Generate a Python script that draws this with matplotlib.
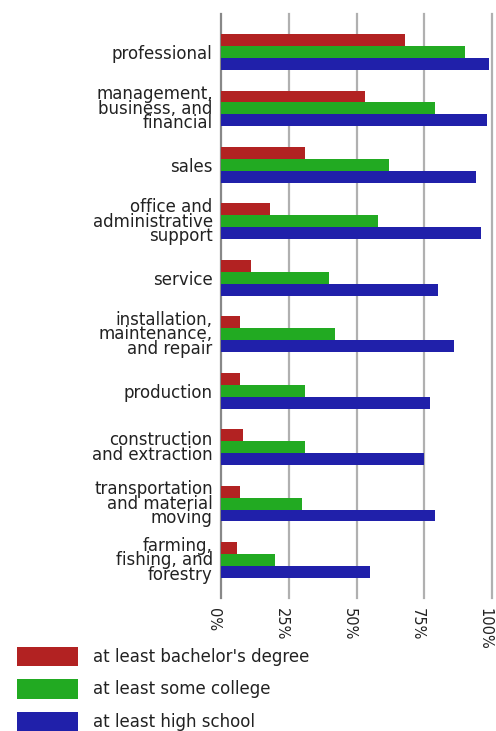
import matplotlib
matplotlib.use("Agg")
import matplotlib.pyplot as plt
import numpy as np

categories = [
    "professional",
    "management,\nbusiness, and\nfinancial",
    "sales",
    "office and\nadministrative\nsupport",
    "service",
    "installation,\nmaintenance,\nand repair",
    "production",
    "construction\nand extraction",
    "transportation\nand material\nmoving",
    "farming,\nfishing, and\nforestry",
]
bachelor = [68, 53, 31, 18, 11, 7, 7, 8, 7, 6]
some_college = [90, 79, 62, 58, 40, 42, 31, 31, 30, 20]
high_school = [99, 98, 94, 96, 80, 86, 77, 75, 79, 55]
series_names = ["at least bachelor's degree", "at least some college", "at least high school"]
colors = ["#B22222", "#22AA22", "#2020AA"]
xticks = [0, 25, 50, 75, 100]
xticklabels = ["0%", "25%", "50%", "75%", "100%"]

W, H = 496, 731
fig = plt.figure(figsize=(W / 100, H / 100), dpi=100)
ax = fig.add_axes([221 / W, (H - 598) / H, (492 - 221) / W, (598 - 14) / H])

y = np.arange(len(categories))
bh = 0.21
for i, (vals, c, name) in enumerate(zip([bachelor, some_college, high_school], colors, series_names)):
    ax.barh(y + (i - 1) * bh, vals, height=bh, color=c, label=name, zorder=3)

for t in xticks:
    ax.axvline(t, color="#888888" if t == 0 else "#b0b0b0", lw=1.6, zorder=1, clip_on=False)

ax.set_xlim(0, 100)
ax.set_ylim(len(categories) - 1 + 0.67, -0.67)
ax.set_yticks(y)
ax.set_yticklabels(categories, fontsize=12, linespacing=0.75, color="#222222")
ax.set_xticks(xticks)
ax.set_xticklabels(xticklabels, rotation=-90, fontsize=10.5, color="#222222", ha="right")
ax.tick_params(axis="both", length=0)
ax.tick_params(axis="y", pad=6)
ax.tick_params(axis="x", pad=7)
for s in ax.spines.values():
    s.set_visible(False)

handles, labels = ax.get_legend_handles_labels()
leg = fig.legend(handles, labels, loc="upper left",
                 bbox_to_anchor=(17 / W, 1 - 647 / H), bbox_transform=fig.transFigure,
                 frameon=False, fontsize=12, handlelength=3.65, handleheight=1.4,
                 labelspacing=0.78, handletextpad=0.9, borderpad=0, borderaxespad=0)
for t in leg.get_texts():
    t.set_color("#222222")

fig.savefig("out.png", dpi=100)
